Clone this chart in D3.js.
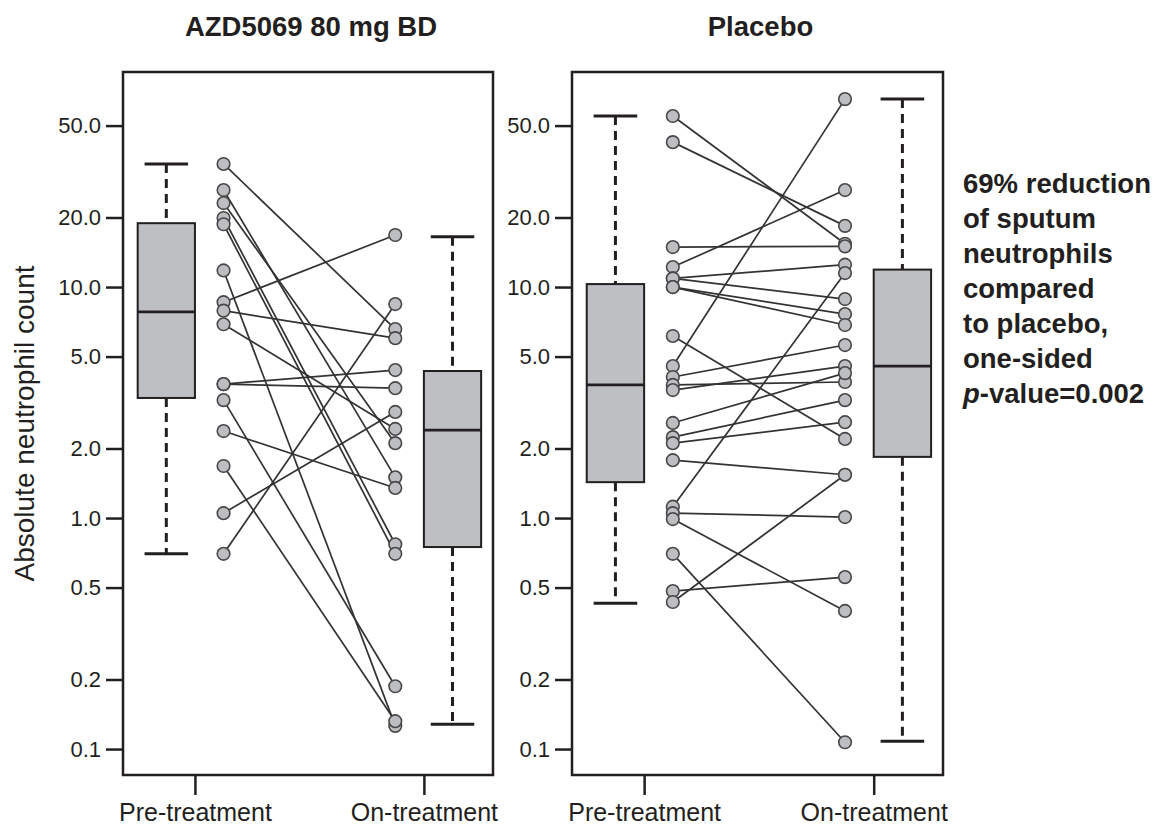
<!DOCTYPE html>
<html lang="en">
<head>
<meta charset="utf-8" />
<title>Sputum neutrophils</title>
<script src="https://cdn.jsdelivr.net/npm/d3@7"></script>
<style>
    body { margin: 0; background: #fff; }
    svg { display: block; font-family: 'Liberation Sans', Arial, Helvetica, sans-serif; }
    .frame { fill: none; stroke: #231f20; stroke-width: 2.5px; }
    .axis path.domain { display: none; }
    .axis line { stroke: #231f20; stroke-width: 2.5px; }
    .axis text { fill: #231f20; }
    .pair { stroke: #333; stroke-width: 1.7px; fill: none; }
    .dot { fill: #bdbec2; stroke: #474747; stroke-width: 1.6px; }
    .box { fill: #bebfc3; stroke: #231f20; stroke-width: 2px; }
    .median { stroke: #231f20; stroke-width: 2.8px; }
    .whisker { stroke: #231f20; stroke-width: 3px; stroke-dasharray: 9,6; }
    .cap { stroke: #231f20; stroke-width: 3px; }
    .title { font-size: 27.5px; font-weight: bold; fill: #231f20; text-anchor: middle; }
    .note { font-size: 27.5px; font-weight: bold; fill: #231f20; }
</style>
</head>
<body>
<svg id="chart" width="1155" height="825"></svg>
<script>
// values (pairs: pre[i] -> on[i])
var groups = ["AZD5069 80 mg BD", "Placebo"];
var periods = ["Pre-treatment", "On-treatment"];
var yTicks = [0.1, 0.2, 0.5, 1, 2, 5, 10, 20, 50];

var azdPre = [34.1, 26.3, 23.1, 19.9, 18.7, 11.8, 8.6, 7.9, 6.9, 3.8, 3.8, 3.24, 2.38, 1.68, 1.05, 0.70];
var azdOn  = [6.58, 1.50, 2.11, 0.77, 0.70, 0.126, 16.8, 6.01, 2.43, 4.37, 3.65, 0.187, 1.35, 0.132, 2.88, 8.44];

var plbPre = [55.0, 42.4, 14.9, 12.2, 10.9, 10.9, 10.0, 10.0, 6.14, 4.55, 4.08, 3.77, 3.58, 2.58, 2.24, 2.11, 1.78, 1.12, 1.05, 0.99, 0.70, 0.483, 0.433];
var plbOn  = [15.4, 18.4, 15.0, 26.3, 12.5, 8.87, 7.64, 6.85, 2.20, 65.1, 5.61, 3.88, 4.55, 4.24, 3.24, 2.60, 1.54, 11.5, 1.01, 0.396, 0.107, 0.555, 1.54];

// box stats: [lower whisker, q1, median, q3, upper whisker]
var azdPreBox = [0.70, 3.31, 7.8, 18.9, 34.1];
var azdOnBox  = [0.128, 0.749, 2.40, 4.33, 16.5];
var plbPreBox = [0.428, 1.43, 3.77, 10.3, 55.0];
var plbOnBox  = [0.108, 1.84, 4.55, 11.9, 65.1];

var note = ["69% reduction", "of sputum", "neutrophils", "compared", "to placebo,", "one-sided"];

var svg = d3.select("#chart");
var plotTop = 72, plotBottom = 775;

var y = d3.scaleLog().domain([0.0772, 85.3]).range([plotBottom, plotTop]);

var panels = [
    { name: groups[0], left: 123, right: 493, pre: azdPre, on: azdOn, boxes: [azdPreBox, azdOnBox] },
    { name: groups[1], left: 572, right: 943, pre: plbPre, on: plbOn, boxes: [plbPreBox, plbOnBox] }
];

panels.forEach(function (p) {
    var x = d3.scalePoint().domain(periods).range([p.left, p.right]).padding(0.308).align(0.51);
    var step = x.step();
    var off = step * 0.125;     // box / dots offset from the tick
    var boxW = step * 0.25, capW = step * 0.19;
    var g = svg.append("g");

    // y axis
    g.append("g").attr("class", "axis")
        .attr("transform", "translate(" + p.left + ",0)")
        .call(d3.axisLeft(y).tickValues(yTicks).tickFormat(d3.format(".1f")).tickSize(17).tickPadding(5))
        .selectAll("text").attr("font-size", 22).attr("font-family", null);

    // x axis
    g.append("g").attr("class", "axis")
        .attr("transform", "translate(0," + plotBottom + ")")
        .call(d3.axisBottom(x).tickSize(20).tickPadding(8))
        .selectAll("text").attr("font-size", 25).attr("font-family", null);

    // boxes: pre box left of the tick, on box right of the tick
    var boxX = [x(periods[0]) - off, x(periods[1]) + off];
    p.boxes.forEach(function (b, i) {
        var cx = boxX[i];
        var bg = g.append("g");
        bg.append("line").attr("class", "whisker").attr("x1", cx).attr("x2", cx).attr("y1", y(b[4])).attr("y2", y(b[3]));
        bg.append("line").attr("class", "whisker").attr("x1", cx).attr("x2", cx).attr("y1", y(b[1])).attr("y2", y(b[0]));
        bg.append("line").attr("class", "cap").attr("x1", cx - capW / 2).attr("x2", cx + capW / 2).attr("y1", y(b[4])).attr("y2", y(b[4]));
        bg.append("line").attr("class", "cap").attr("x1", cx - capW / 2).attr("x2", cx + capW / 2).attr("y1", y(b[0])).attr("y2", y(b[0]));
        bg.append("rect").attr("class", "box").attr("x", cx - boxW / 2).attr("width", boxW)
            .attr("y", y(b[3])).attr("height", y(b[1]) - y(b[3]));
        bg.append("line").attr("class", "median").attr("x1", cx - boxW / 2).attr("x2", cx + boxW / 2).attr("y1", y(b[2])).attr("y2", y(b[2]));
    });

    // paired lines + dots: pre dots right of the tick, on dots left of the tick
    var xPre = x(periods[0]) + off, xOn = x(periods[1]) - off;
    var pairs = p.pre.map(function (v, i) { return { pre: v, on: p.on[i] }; });

    g.append("g").selectAll("line").data(pairs).enter().append("line").attr("class", "pair")
        .attr("x1", xPre).attr("x2", xOn)
        .attr("y1", function (d) { return y(d.pre); }).attr("y2", function (d) { return y(d.on); });

    var dots = g.append("g");
    dots.selectAll("circle.pre").data(pairs).enter().append("circle").attr("class", "dot pre")
        .attr("cx", xPre).attr("cy", function (d) { return y(d.pre); }).attr("r", 6.3);
    dots.selectAll("circle.on").data(pairs).enter().append("circle").attr("class", "dot on")
        .attr("cx", xOn).attr("cy", function (d) { return y(d.on); }).attr("r", 6.3);

    g.append("rect").attr("class", "frame").attr("x", p.left).attr("y", plotTop)
        .attr("width", p.right - p.left).attr("height", plotBottom - plotTop);

    g.append("text").attr("class", "title").attr("x", (p.left + p.right) / 2 + 3).attr("y", 36).text(p.name);
});

svg.append("text")
    .attr("transform", "translate(34," + ((plotTop + plotBottom) / 2) + ") rotate(-90)")
    .attr("text-anchor", "middle").attr("font-size", 28).attr("fill", "#231f20")
    .text("Absolute neutrophil count");

var noteG = svg.append("text").attr("class", "note").attr("x", 963).attr("y", 193);
note.forEach(function (s, i) {
    noteG.append("tspan").attr("x", 963).attr("dy", i == 0 ? 0 : 35).text(s);
});
var last = noteG.append("tspan").attr("x", 963).attr("dy", 35);
last.append("tspan").attr("font-style", "italic").text("p");
last.append("tspan").text("-value=0.002");
</script>
</body>
</html>
